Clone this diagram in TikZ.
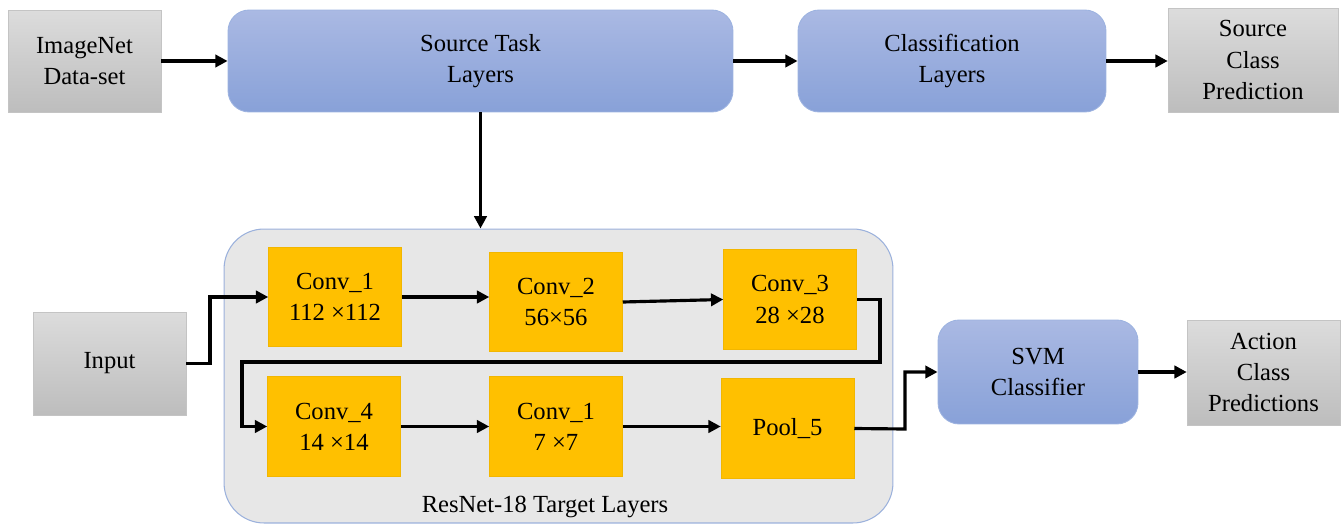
\documentclass[tikz,border=0pt]{standalone}
\usepackage{fontspec}
\setmainfont{Liberation Serif}
\newfontfamily\tnr{LiberationSerif-Regular.ttf}
\usetikzlibrary{arrows.meta}
\definecolor{blueTop}{HTML}{AAB9E3}
\definecolor{blueBot}{HTML}{88A1D8}
\definecolor{blueBorder}{HTML}{9DB3E0}
\definecolor{grayTop}{HTML}{DCDCDC}
\definecolor{grayBot}{HTML}{BDBDBD}
\definecolor{convY}{HTML}{FFC000}
\definecolor{contFill}{HTML}{E7E7E7}
\definecolor{contBorder}{HTML}{9BB1DC}
\tikzset{
  txt/.style={font=\tnr\fontsize{14}{17.8}\selectfont, align=center, text=black},
  bluebox/.style={txt, rounded corners=12pt, top color=blueTop, bottom color=blueBot, draw=blueBorder, line width=0.5pt, inner sep=0pt},
  graybox/.style={txt, top color=grayTop, bottom color=grayBot, draw=grayBot!90, line width=0.3pt, inner sep=0pt},
  convbox/.style={txt, fill=convY, draw=convY!95!black, line width=0.3pt, inner sep=0pt, minimum width=2.66cm, minimum height=1.99cm},
  arr/.style={line width=1.8pt, -{Triangle[length=7pt,width=7pt]}},
}
\begin{document}
\begin{tikzpicture}[x=0.02cm,y=-0.02cm]
\useasboundingbox (0,0) rectangle (1342,527);
% container
\node[draw=contBorder, fill=contFill, line width=0.6pt, rounded corners=0.8cm, minimum width=13.38cm, minimum height=5.88cm, inner sep=0pt] (cont) at (558.5,376) {};
\node[txt] (contlabel) at (545,507) {ResNet-18 Target Layers};
% top row
\node[graybox, minimum width=3.06cm, minimum height=2.04cm] (imnet) at (84.5,61) {ImageNet\\Data-set};
\node[bluebox, minimum width=10.1cm, minimum height=2.04cm] (src) at (480.5,61) {Source Task\\Layers};
\node[bluebox, minimum width=6.16cm, minimum height=2.04cm] (cls) at (952,61) {Classification\\Layers};
\node[graybox, minimum width=3.4cm, minimum height=2.08cm] (srcpred) at (1253,60) {Source\\Class\\Prediction};
% lower
\node[graybox, minimum width=3.06cm, minimum height=2.06cm] (inp) at (109.5,363.5) {Input};
\node[convbox] (c1) at (335,297) {Conv\_1\\112 ×112};
\node[convbox] (c2) at (556,302) {Conv\_2\\56×56};
\node[convbox] (c3) at (790,299.5) {Conv\_3\\28 ×28};
\node[convbox] (c4) at (334,426.5) {Conv\_4\\14 ×14};
\node[convbox] (c5) at (556,426.5) {Conv\_1\\7 ×7};
\node[convbox] (p5) at (787.5,428.5) {Pool\_5};
\node[bluebox, minimum width=4.0cm, minimum height=2.08cm] (svm) at (1038,372) {SVM\\Classifier};
\node[graybox, minimum width=3.06cm, minimum height=2.1cm] (act) at (1263.5,372.5) {Action\\Class\\Predictions};
% coordinates
\coordinate (r1) at (880,362);
\coordinate (l1) at (242,362);
\coordinate (pj) at (905,429);
\coordinate (ij) at (210,363.5);
% arrows
\draw[arr] (imnet) -- (src);
\draw[arr] (src) -- (cls);
\draw[arr] (cls.east) -- (cls.east -| srcpred.west);
\draw[arr] (src.south) -- (src.south |- cont.north);
\draw[arr] (inp.east) -- (ij) |- (c1.west);
\draw[arr] (c1.east) -- (c1.east -| c2.west);
\draw[arr] (c2.east) -- (c3.west);
\draw[arr] (c3.east) -| (r1) -- (l1) |- (c4.west);
\draw[arr] (c4.east) -- (c4.east -| c5.west);
\draw[arr] (c5.east) -- (c5.east -| p5.west);
\draw[arr] (p5.east) -- (pj) |- (svm.west);
\draw[arr] (svm.east) -- (svm.east -| act.west);
\end{tikzpicture}
\end{document}
